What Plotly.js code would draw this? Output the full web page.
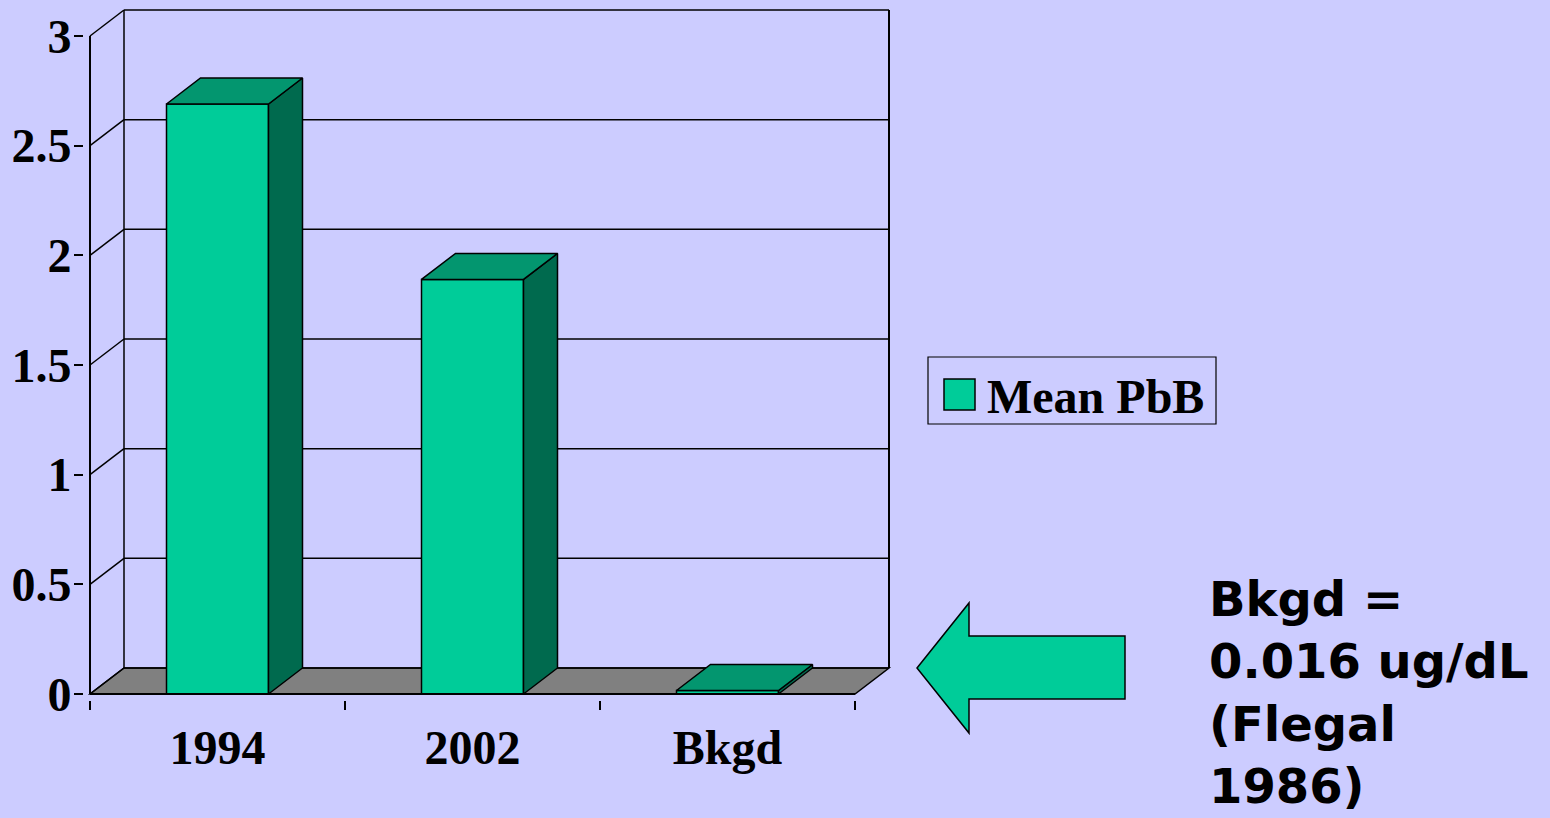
<!DOCTYPE html>
<html>
<head>
<meta charset="utf-8">
<script src="https://cdn.plot.ly/plotly-3.0.1.min.js"></script>
<style>html,body{margin:0;padding:0;background:#CCCCFF;}#chart{width:1550px;height:818px;}</style>
</head>
<body>
<div id="chart"></div>
<script>
// ---- data ----
const categories = ['1994', '2002', 'Bkgd'];
const meanPbB = [2.69, 1.89, 0.016];
const seriesName = 'Mean PbB';
const yTickVals = [0, 0.5, 1, 1.5, 2, 2.5, 3];
const yTickText = ['0', '0.5', '1', '1.5', '2', '2.5', '3'];
const noteLines = ['Bkgd =', '0.016 ug/dL', '(Flegal', '1986)'];

// ---- geometry (pixels) ----
const W = 1550, H = 818;
const X0PX = 90, Y0PX = 694;        // pixel of front-left corner (x=-0.5, y=0)
const PXX = 255, PXY = 658 / 3;     // pixels per unit
const DXPX = 34, DYPX = 26;         // 3D depth offset
const PAD = 6;
const DX = DXPX / PXX, DY = DYPX / PXY;
const nCat = categories.length;
const xLo = -0.5, xHi = nCat - 0.5;
const yMax = yTickVals[yTickVals.length - 1];
const xr = [xLo - PAD / PXX, xHi + DX + PAD / PXX];
const yr = [-PAD / PXY, yMax + DY + PAD / PXY];
const mL = X0PX - PAD, mB = H - (Y0PX + PAD);
const plotW = Math.round((xr[1] - xr[0]) * PXX), plotH = Math.round((yr[1] - yr[0]) * PXY);
const mR = W - mL - plotW, mT = H - mB - plotH;
const px2paperX = p => (p - mL) / plotW;
const px2paperY = p => (H - mB - p) / plotH;

const BW = 0.4; // bar width in category units
const FRONT = '#00CC99', TOP = '#03966F', SIDE = '#006A4E', FLOOR = '#808080', BG = '#CCCCFF';

// ---- 3D faces computed from data ----
const xs = categories.map((c, i) => i);
const topX = [], topY = [], sideX = [], sideY = [];
xs.forEach((c, i) => {
  const v = meanPbB[i], x0 = c - BW / 2, x1 = c + BW / 2;
  topX.push(x0, x1, x1 + DX, x0 + DX, x0, null);
  topY.push(v, v, v + DY, v + DY, v, null);
  sideX.push(x1, x1, x1 + DX, x1 + DX, x1, null);
  sideY.push(0, v, v + DY, DY, 0, null);
});

const traces = [
  {type: 'bar', x: xs, y: meanPbB, width: BW, name: seriesName, showlegend: false,
   marker: {color: FRONT, line: {color: '#000', width: 1.5}}, hoverinfo: 'skip'},
  {type: 'scatter', x: sideX, y: sideY, mode: 'lines', fill: 'toself', fillcolor: SIDE,
   line: {color: '#000', width: 1.5}, showlegend: false, hoverinfo: 'skip'},
  {type: 'scatter', x: topX, y: topY, mode: 'lines', fill: 'toself', fillcolor: TOP,
   line: {color: '#000', width: 1.5}, showlegend: false, hoverinfo: 'skip'}
];

// ---- walls, floor, gridlines ----
const shapes = [];
shapes.push({type: 'path', layer: 'below', xref: 'x', yref: 'y',
  path: `M${xLo},0 L${xHi},0 L${xHi + DX},${DY} L${xLo + DX},${DY} Z`,
  fillcolor: FLOOR, line: {color: '#000', width: 1.5}});
yTickVals.forEach(v => {
  shapes.push({type: 'line', layer: 'below', xref: 'x', yref: 'y',
    x0: xLo, y0: v, x1: xLo + DX, y1: v + DY, line: {color: '#000', width: 1.5}});
  shapes.push({type: 'line', layer: 'below', xref: 'x', yref: 'y',
    x0: xLo + DX, y0: v + DY, x1: xHi + DX, y1: v + DY, line: {color: '#000', width: 1.5}});
});
shapes.push({type: 'line', layer: 'below', xref: 'x', yref: 'y',
  x0: xLo + DX, y0: DY, x1: xLo + DX, y1: yMax + DY, line: {color: '#000', width: 1.5}});
shapes.push({type: 'line', layer: 'below', xref: 'x', yref: 'y',
  x0: xHi + DX, y0: DY, x1: xHi + DX, y1: yMax + DY, line: {color: '#000', width: 2}});
// front axes
shapes.push({type: 'line', xref: 'x', yref: 'y', x0: xLo, y0: 0, x1: xLo, y1: yMax, line: {color: '#000', width: 2}});
shapes.push({type: 'line', xref: 'x', yref: 'y', x0: xLo, y0: 0, x1: xHi, y1: 0, line: {color: '#000', width: 2}});

// ---- custom legend box ----
shapes.push({type: 'rect', xref: 'paper', yref: 'paper',
  x0: px2paperX(928), x1: px2paperX(1216), y0: px2paperY(357), y1: px2paperY(424),
  fillcolor: BG, line: {color: '#000', width: 1.2}});
shapes.push({type: 'rect', xref: 'paper', yref: 'paper',
  x0: px2paperX(944), x1: px2paperX(975), y0: px2paperY(379), y1: px2paperY(410),
  fillcolor: FRONT, line: {color: '#000', width: 1.5}});

// ---- arrow ----
const arrowPts = [[917, 668], [969, 603], [969, 636], [1125, 636], [1125, 699], [969, 699], [969, 733]];
shapes.push({type: 'path', xref: 'paper', yref: 'paper',
  path: arrowPts.map((p, i) => (i ? 'L' : 'M') + px2paperX(p[0]).toFixed(5) + ',' + px2paperY(p[1]).toFixed(5)).join(' ') + ' Z',
  fillcolor: FRONT, line: {color: '#000', width: 1.5}});

const serif = {family: '"Liberation Serif", "Times New Roman", serif', size: 48, color: '#000', weight: 700};

const annotations = [
  {xref: 'paper', yref: 'paper', x: px2paperX(985), y: px2paperY(396), xanchor: 'left', yanchor: 'middle',
   text: seriesName, showarrow: false, font: serif},
  {xref: 'paper', yref: 'paper', x: px2paperX(1207), y: px2paperY(692), xanchor: 'left', yanchor: 'middle',
   align: 'left', text: noteLines.join('<br>'), showarrow: false,
   font: {family: '"DejaVu Sans", sans-serif', size: 48, color: '#000', weight: 700}}
];

const layout = {
  width: W, height: H,
  paper_bgcolor: BG, plot_bgcolor: BG,
  margin: {l: mL, r: mR, t: mT, b: mB, pad: 0},
  showlegend: false,
  bargap: 0,
  xaxis: {range: xr, showgrid: false, zeroline: false, showline: false,
    tickmode: 'array', tickvals: xs, ticktext: categories, ticks: '',
    ticklabelstandoff: 15, tickfont: serif,
    minor: {tickmode: 'array', tickvals: [-0.5, 0.5, 1.5, 2.5], ticks: 'outside', ticklen: 9, tickwidth: 2, tickcolor: '#000', showgrid: false}},
  yaxis: {range: yr, showgrid: false, zeroline: false, showline: false,
    tickmode: 'array', tickvals: yTickVals, ticktext: yTickText,
    ticks: 'outside', ticklen: 9, tickwidth: 2, tickcolor: '#000', tickfont: serif,
    ticklabelstandoff: -7},
  shapes: shapes,
  annotations: annotations
};

Plotly.newPlot('chart', traces, layout, {staticPlot: true, displayModeBar: false});
</script>
</body>
</html>
